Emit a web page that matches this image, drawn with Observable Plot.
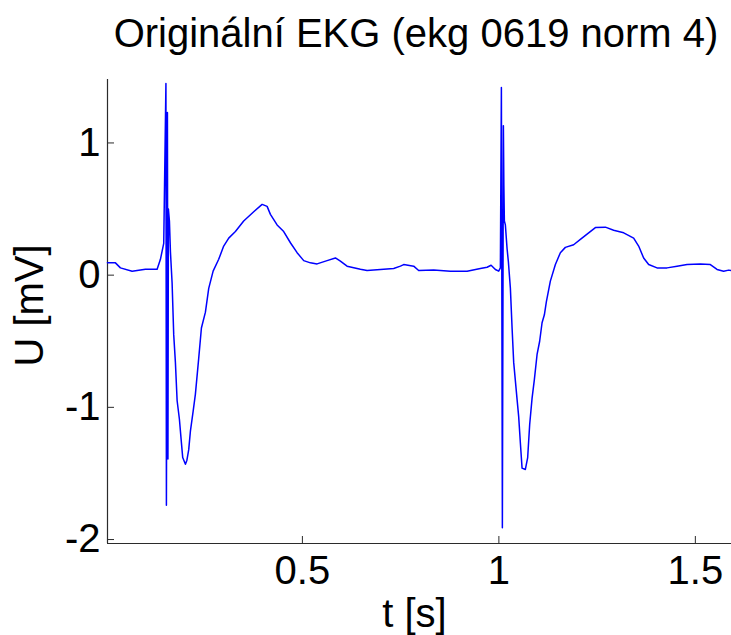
<!DOCTYPE html>
<html>
<head>
<meta charset="utf-8">
<script src="https://cdn.jsdelivr.net/npm/d3@7"></script>
<script src="https://cdn.jsdelivr.net/npm/@observablehq/plot@0.6"></script>
<style>
  html, body { margin: 0; padding: 0; background: #fff; }
  #wrap { width: 731px; height: 635px; overflow: hidden; font-family: "Liberation Sans", Arial, sans-serif; }
  #title { height: 70px; box-sizing: border-box; padding-top: 13px; padding-left: 101px; width: 731px;
           font-size: 40px; line-height: 40px; text-align: center; color: #000; white-space: nowrap; }
</style>
</head>
<body>
<div id="wrap">
  <div id="title"></div>
  <div id="chart"></div>
</div>
<script>
const titleText = "Originální EKG (ekg 0619 norm 4)";
const xLabel = "t [s]";
const yLabel = "U [mV]";
const xTicks = [0.5, 1, 1.5];
const yTicks = [-2, -1, 0, 1];
const xDomain = [0.004, 1.592];
const yDomain = [-2.03, 1.48];

// time [s]
const t = [
  0.0038, 0.0242, 0.0369, 0.0667, 0.1005, 0.1303, 0.1387, 0.1471,
  0.1527, 0.1539, 0.1565, 0.1578, 0.1590, 0.1616, 0.1641,
  0.1684, 0.1725, 0.1768, 0.1812, 0.1870, 0.1913, 0.1954, 0.2023, 0.2061, 0.2107,
  0.2150, 0.2219, 0.2277, 0.2361, 0.2430, 0.2532, 0.2616, 0.2728, 0.2870, 0.2997,
  0.3125, 0.3295, 0.3506, 0.3761, 0.3975, 0.4102, 0.4186, 0.4356, 0.4524,
  0.4695, 0.4865, 0.5033, 0.5204, 0.5374, 0.5628, 0.5840, 0.5967, 0.6137, 0.6476,
  0.6646, 0.6985, 0.7323, 0.7494, 0.7578, 0.7832, 0.7959, 0.8341, 0.8766, 0.9191,
  0.9529, 0.9700, 0.9802, 0.9911, 0.9995, 1.0038,
  1.0064, 1.0089, 1.0115, 1.0127, 1.0140, 1.0165, 1.0209, 1.0242, 1.0293, 1.0336,
  1.0377, 1.0420, 1.0463, 1.0504, 1.0547, 1.0590, 1.0674, 1.0733, 1.0784, 1.0845,
  1.0903, 1.0972, 1.1038, 1.1099, 1.1158, 1.1209, 1.1310, 1.1438, 1.1565, 1.1692,
  1.1903, 1.2074, 1.2285, 1.2456, 1.2710, 1.2921, 1.3176, 1.3430, 1.3557, 1.3684,
  1.3812, 1.4025, 1.4280, 1.4534, 1.4789, 1.5127, 1.5382, 1.5552, 1.5720, 1.5847, 1.5916
];
// voltage [mV]
const U = [
  0.093, 0.093, 0.055, 0.03, 0.045, 0.045, 0.12, 0.24,
  1.45, -1.74, 1.23, -1.39, 0.5, 0.41, 0.18,
  -0.06, -0.45, -0.66, -0.95, -1.09, -1.24, -1.38, -1.43, -1.40, -1.32,
  -1.18, -1.03, -0.90, -0.63, -0.40, -0.28, -0.10, 0.03, 0.12, 0.22,
  0.28, 0.33, 0.41, 0.48, 0.535, 0.52, 0.46, 0.38, 0.33,
  0.245, 0.17, 0.11, 0.093, 0.085, 0.11, 0.13, 0.106, 0.068, 0.045,
  0.035, 0.043, 0.05, 0.068, 0.08, 0.068, 0.035, 0.038, 0.03, 0.03,
  0.05, 0.06, 0.075, 0.043, 0.03, 0.055,
  1.42, -1.91, 1.13, 0.68, 0.41, 0.38, 0.2, 0.1, -0.1, -0.40,
  -0.66, -0.80, -0.94, -1.07, -1.27, -1.46, -1.47, -1.38, -1.13, -0.93,
  -0.79, -0.60, -0.50, -0.36, -0.30, -0.20, -0.045, 0.08, 0.17, 0.21,
  0.23, 0.27, 0.32, 0.36, 0.363, 0.34, 0.32, 0.28, 0.22, 0.13,
  0.08, 0.055, 0.055, 0.068, 0.08, 0.085, 0.08, 0.043, 0.03, 0.038, 0.035
];

const data = t.map((v, i) => ({t: v, U: U[i]}));

document.getElementById("title").textContent = titleText;

const W = 731, H = 565;
const mTop = 9, mBottom = 92, mLeft = 107, mRight = 0;
const innerW = W - mLeft - mRight, innerH = H - mTop - mBottom;
const axisColor = "#2b2b2b";

const chart = Plot.plot({
  width: W,
  height: H,
  marginTop: mTop,
  marginBottom: mBottom,
  marginLeft: mLeft,
  marginRight: mRight,
  style: {fontFamily: "'Liberation Sans', Arial, sans-serif", fontSize: "40px", color: "#000", background: "#fff", overflow: "visible"},
  x: {domain: xDomain},
  y: {domain: yDomain},
  marks: [
    Plot.axisX({ticks: xTicks, tickSize: 0, tickPadding: 12, tickFormat: d => String(d), label: null, fill: "#000"}),
    Plot.axisY({ticks: yTicks, tickSize: 0, tickPadding: 7, tickFormat: d => String(d), label: null, fill: "#000"}),
    Plot.tickX(xTicks, {x: d => d, insetTop: innerH - 7, stroke: axisColor}),
    Plot.tickY(yTicks, {y: d => d, insetRight: innerW - 7, stroke: axisColor}),
    Plot.ruleX([xDomain[0]], {stroke: axisColor, strokeWidth: 1.2}),
    Plot.ruleY([yDomain[0]], {stroke: axisColor, strokeWidth: 1.2}),
    Plot.line(data, {x: "t", y: "U", stroke: "#0000ff", strokeWidth: 1.5}),
    Plot.text([xLabel], {text: d => d, frameAnchor: "bottom", textAnchor: "middle", lineAnchor: "middle", dy: 71, dx: -5, fill: "#000"}),
    Plot.text([yLabel], {text: d => d, frameAnchor: "left", textAnchor: "middle", lineAnchor: "middle", rotate: -90, dx: -77, dy: -6, fill: "#000"})
  ]
});
document.getElementById("chart").appendChild(chart);
</script>
</body>
</html>
